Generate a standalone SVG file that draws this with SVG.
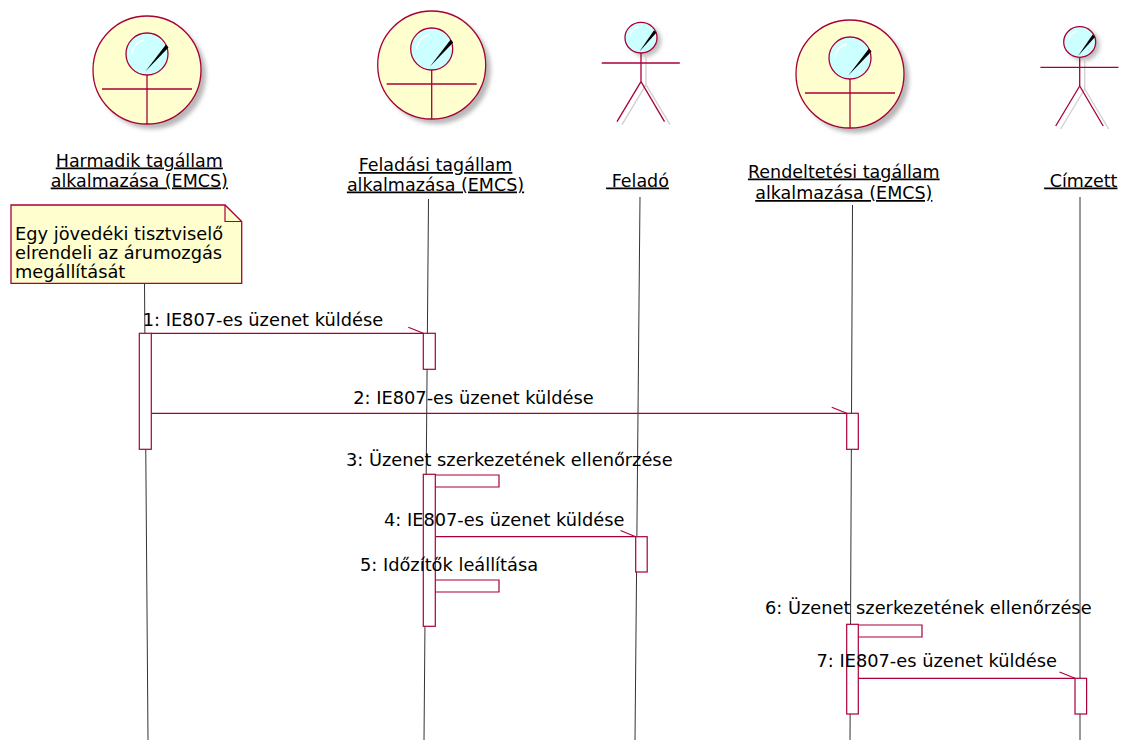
<svg xmlns="http://www.w3.org/2000/svg" xmlns:xlink="http://www.w3.org/1999/xlink" width="1125" height="740" viewBox="0 0 1125 740">
<style>
text{font-family:"DejaVu Sans",Verdana,sans-serif;font-size:17.5px;fill:#000}
.lbl{font-size:17.8px}
.hdr{text-decoration:underline;text-anchor:middle}
.life{stroke:#333;stroke-width:1;fill:none}
.act{fill:#fff;stroke:#A80036;stroke-width:1.2}
.msg{stroke:#A80036;stroke-width:1.2;fill:none}
.fig{stroke:#A80036;stroke-width:1.3}
.sh{stroke:#cfcfcf;stroke-width:1.3;fill:none}
</style>
<defs>
<filter id="blur" x="-20%" y="-20%" width="140%" height="140%"><feGaussianBlur stdDeviation="2"/></filter>
<g id="bizActor">
<circle cx="5" cy="5" r="54" fill="#b8b8b8" filter="url(#blur)"/>
<circle cx="0" cy="0" r="54" fill="#FEFECE" class="fig"/>
<line x1="-45" y1="19" x2="45" y2="19" class="fig"/>
<line x1="0" y1="5" x2="0" y2="54" class="fig"/>
<circle cx="0" cy="-16" r="21" fill="#CCFFFF" class="fig"/>
<path d="M -15 -16 A 15 15 0 0 1 -3 -30" stroke="#fff" stroke-width="1.5" fill="none"/>
<polygon points="-1.7,1.4 19,-25.5 21.5,-22.5" fill="#000"/>
</g>
<g id="stickActor">
<circle cx="4" cy="3" r="16" fill="#bdbdbd" filter="url(#blur)"/>
<line x1="5" y1="18" x2="5" y2="47" class="sh"/>
<line x1="5" y1="47" x2="-19" y2="87" class="sh"/>
<line x1="5" y1="47" x2="29" y2="87" class="sh"/>
<ellipse cx="0" cy="0" rx="16" ry="15.3" fill="#CCFFFF" class="fig"/>
<path d="M -11 -2 A 11 11 0 0 1 -2 -11" stroke="#fff" stroke-width="1.5" fill="none"/>
<polygon points="-1.7,14 13,-7.5 15.3,-5" fill="#000"/>
<line x1="0" y1="15.3" x2="0" y2="44" class="fig"/>
<line x1="-39.3" y1="25.3" x2="38.8" y2="25.3" class="fig"/>
<line x1="0" y1="44" x2="-24" y2="84" class="fig"/>
<line x1="0" y1="44" x2="23.5" y2="84" class="fig"/>
</g>
</defs>
<rect width="1125" height="740" fill="#fff"/>

<g id="lifelines">
<line class="life" x1="144.5" y1="283.5" x2="148" y2="740" stroke="#666"/>
<line class="life" x1="428.5" y1="199" x2="424" y2="740"/>
<line class="life" x1="640" y1="197" x2="635" y2="740"/>
<line class="life" x1="852.5" y1="205" x2="850" y2="740"/>
<line class="life" x1="1080" y1="197" x2="1080" y2="740"/>
</g>

<g id="harmadik">
<use xlink:href="#bizActor" x="147" y="70"/>
<text class="hdr" x="139.3" y="166.5">Harmadik tagállam</text>
<text class="hdr" x="139.3" y="186.5">alkalmazása (EMCS)</text>
</g>
<g id="feladasi">
<use xlink:href="#bizActor" x="431.7" y="65"/>
<text class="hdr" x="435.5" y="171">Feladási tagállam</text>
<text class="hdr" x="435.5" y="190.5">alkalmazása (EMCS)</text>
</g>
<g id="felado">
<use xlink:href="#stickActor" x="641" y="37.7"/>
<text class="hdr" x="637.5" y="186.5" xml:space="preserve"> Feladó</text>
</g>
<g id="rendeltetesi">
<use xlink:href="#bizActor" x="850" y="74"/>
<text class="hdr" x="843.8" y="177.5">Rendeltetési tagállam</text>
<text class="hdr" x="843.8" y="199">alkalmazása (EMCS)</text>
</g>
<g id="cimzett">
<use xlink:href="#stickActor" x="1079.7" y="42"/>
<text class="hdr" x="1080.8" y="186.5" xml:space="preserve"> Címzett</text>
</g>

<g id="note">
<polygon points="11,205 225,205 241.7,221.5 241.7,283.3 11,283.3" fill="#FEFECE" stroke="#A80036" stroke-width="1.3"/>
<polyline points="225,205 225,221.5 241.7,221.5" fill="none" stroke="#A80036" stroke-width="1.2"/>
<text class="lbl" x="15" y="239.5">Egy jövedéki tisztviselő</text>
<text class="lbl" x="15" y="259.3">elrendeli az árumozgás</text>
<text class="lbl" x="15" y="278">megállítását</text>
</g>

<g id="activations">
<rect class="act" x="139.3" y="333.3" width="12" height="116"/>
<rect class="act" x="423.3" y="333.3" width="12" height="36"/>
<rect class="act" x="846.7" y="413.3" width="11.6" height="36"/>
<rect class="act" x="423.3" y="474.3" width="12" height="152"/>
<rect class="act" x="635.7" y="536.7" width="11.5" height="35.3"/>
<rect class="act" x="846.7" y="624.3" width="11.6" height="89.7"/>
<rect class="act" x="1075" y="678.3" width="11.6" height="35.7"/>
</g>

<g id="connectors">
<line class="msg" x1="151.3" y1="333.3" x2="423.3" y2="333.3"/>
<line class="msg" x1="408.3" y1="327.3" x2="423.3" y2="333.3"/>
<line class="msg" x1="151.3" y1="413.3" x2="846.7" y2="413.3"/>
<line class="msg" x1="831.7" y1="407.3" x2="846.7" y2="413.3"/>
<polyline class="msg" points="435.3,475 499,475 499,487 435.3,487"/>
<line class="msg" x1="435.3" y1="536.7" x2="635.7" y2="536.7"/>
<line class="msg" x1="620.5" y1="530.5" x2="635.7" y2="536.7"/>
<polyline class="msg" points="435.3,580 499,580 499,592 435.3,592"/>
<polyline class="msg" points="858.3,625 922,625 922,637 858.3,637"/>
<line class="msg" x1="858.3" y1="678.3" x2="1075" y2="678.3"/>
<line class="msg" x1="1059.5" y1="672" x2="1075" y2="678.3"/>
</g>

<g id="labels">
<text class="lbl" x="142.7" y="326">1: IE807-es üzenet küldése</text>
<text class="lbl" x="353.3" y="404">2: IE807-es üzenet küldése</text>
<text class="lbl" x="346" y="465.5">3: Üzenet szerkezetének ellenőrzése</text>
<text class="lbl" x="384" y="526">4: IE807-es üzenet küldése</text>
<text class="lbl" x="360" y="570.5">5: Időzítők leállítása</text>
<text class="lbl" x="765" y="614">6: Üzenet szerkezetének ellenőrzése</text>
<text class="lbl" x="816.5" y="667">7: IE807-es üzenet küldése</text>
</g>
</svg>
